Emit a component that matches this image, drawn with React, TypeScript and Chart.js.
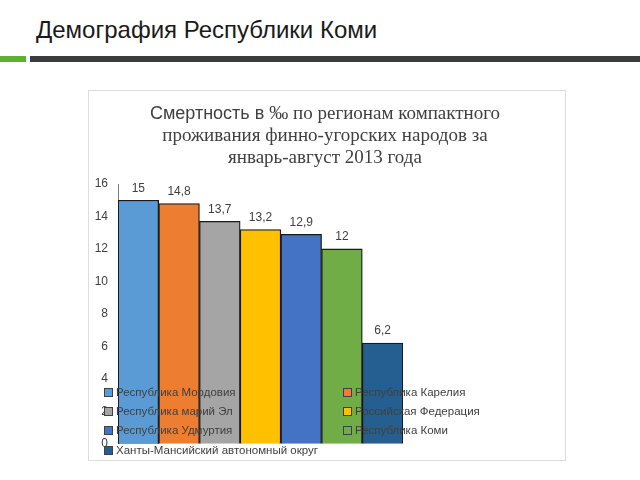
import React, { useEffect, useRef } from "react";
import { Chart, registerables } from "chart.js";

Chart.register(...registerables);

const categories = ["январь-август 2013"];
const regions = [
  "Республика Мордовия",
  "Республика Карелия",
  "Республика марий Эл",
  "Российская Федерация",
  "Республика Удмуртия",
  "Республика Коми",
  "Ханты-Мансийский автономный округ",
];
const values = [15, 14.8, 13.7, 13.2, 12.9, 12, 6.2];
const colors = ["#5B9BD5", "#ED7D31", "#A5A5A5", "#FFC000", "#4472C4", "#70AD47", "#255E91"];
const yMin = 0;
const yMax = 16;
const yStep = 2;

const fmt = (v: number) => String(v).replace(".", ",");

const FONT = '"Liberation Sans", Arial, sans-serif';

const valueLabels = {
  id: "valueLabels",
  afterDatasetsDraw(chart: any) {
    const ctx = chart.ctx;
    chart.data.datasets.forEach((ds: any, i: number) => {
      const meta = chart.getDatasetMeta(i);
      meta.data.forEach((el: any, j: number) => {
        ctx.save();
        ctx.font = `12px ${FONT}`;
        ctx.fillStyle = "#404040";
        ctx.textAlign = "center";
        ctx.textBaseline = "bottom";
        ctx.fillText(fmt(ds.data[j]), el.x, el.y - 6);
        ctx.restore();
      });
    });
  },
};

export default function App() {
  const ref = useRef<HTMLCanvasElement | null>(null);

  useEffect(() => {
    if (!ref.current) return;
    const chart = new Chart(ref.current, {
      type: "bar",
      data: {
        labels: categories,
        datasets: regions.map((r, i) => ({
          label: r,
          data: [values[i]],
          backgroundColor: colors[i],
          borderColor: "#1a1a1a",
          borderWidth: 1.3,
          categoryPercentage: 1,
          barPercentage: 1,
        })),
      },
      options: {
        animation: false,
        responsive: false,
        maintainAspectRatio: false,
        layout: { padding: { left: 0, top: 94, right: 163, bottom: 15 } },
        plugins: {
          legend: { display: false },
          title: { display: false },
          tooltip: { enabled: false },
        },
        scales: {
          x: { display: false },
          y: {
            min: yMin,
            max: yMax,
            ticks: {
              stepSize: yStep,
              padding: 10,
              color: "#404040",
              font: { family: FONT, size: 12 },
            },
            grid: { display: false, drawTicks: false },
            border: { display: true, color: "#7f7f7f", width: 1 },
            afterFit: (scale: any) => {
              scale.width = 30;
            },
          },
        },
      },
      plugins: [valueLabels],
    });
    return () => chart.destroy();
  }, []);

  const legendPos = [
    { x: 104, y: 392 },
    { x: 343, y: 392 },
    { x: 104, y: 411 },
    { x: 343, y: 411 },
    { x: 104, y: 430 },
    { x: 343, y: 430 },
    { x: 104, y: 450 },
  ];

  return (
    <div
      style={{
        position: "fixed",
        left: 0,
        top: 0,
        width: 640,
        height: 480,
        background: "#ffffff",
        overflow: "hidden",
        fontFamily: FONT,
      }}
    >
      <div
        style={{
          position: "absolute",
          left: 36,
          top: 16,
          fontSize: 24,
          color: "#1a1a1a",
          whiteSpace: "nowrap",
          fontFamily: FONT,
        }}
      >
        Демография Республики Коми
      </div>
      <div style={{ position: "absolute", left: 0, top: 56, width: 26, height: 6, background: "#5cb22f" }} />
      <div style={{ position: "absolute", left: 30, top: 56, width: 610, height: 6, background: "#3a3d40" }} />
      <div
        style={{
          position: "absolute",
          left: 88,
          top: 90,
          width: 478,
          height: 371,
          border: "1px solid #dcdcdc",
          boxSizing: "border-box",
          background: "#ffffff",
        }}
      />
      <canvas
        ref={ref}
        width={478}
        height={371}
        style={{ position: "absolute", left: 88, top: 90, width: 478, height: 371 }}
      />
      <div
        style={{
          position: "absolute",
          left: 86,
          top: 102,
          width: 478,
          textAlign: "center",
          color: "#404040",
          fontFamily: '"Liberation Serif", "DejaVu Serif", serif',
          fontSize: 19,
          lineHeight: "22px",
        }}
      >
        <span style={{ fontFamily: FONT, fontSize: 18 }}>Смертность в </span>
        ‰ по регионам компактного
        <br />
        проживания финно-угорских народов за
        <br />
        январь-август 2013 года
      </div>
      {regions.map((r, i) => (
        <div
          key={r}
          style={{
            position: "absolute",
            left: legendPos[i].x,
            top: legendPos[i].y - 8,
            height: 16,
            display: "flex",
            alignItems: "center",
            whiteSpace: "nowrap",
            fontSize: 11.5,
            color: "#404040",
            fontFamily: FONT,
          }}
        >
          <span
            style={{
              display: "inline-block",
              width: 7,
              height: 7,
              background: colors[i],
              border: "1px solid #404040",
              marginRight: 3,
            }}
          />
          {r}
        </div>
      ))}
    </div>
  );
}
